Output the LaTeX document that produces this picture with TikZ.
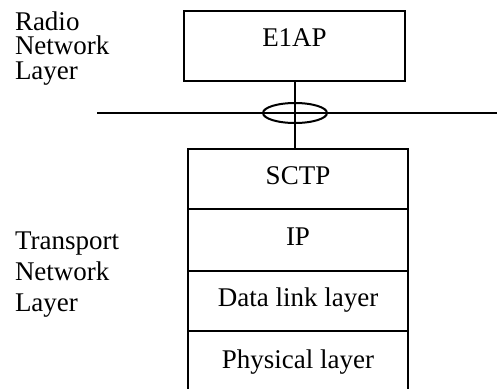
\documentclass[tikz,border=0pt]{standalone}
\usepackage{fontspec}
\setmainfont{Liberation Serif}
\usetikzlibrary{positioning}

\begin{document}
\begin{tikzpicture}[x=1pt, y=-1pt, line width=2pt,
    font=\fontsize{27}{31.3}\selectfont,
    layer/.style={draw, rectangle, minimum width=220pt, outer sep=0pt, inner sep=0pt, text height=17pt, text depth=7pt},
    side/.style={align=left, inner sep=0pt, anchor=north west}]
  \useasboundingbox (0,0) rectangle (497,388);

  \node[side, font=\fontsize{27}{24.2}\selectfont] (rnl) at (14,11) {Radio\\Network\\Layer};
  \node[side] (tnl) at (14,230.5) {Transport\\Network\\Layer};

  \node[layer, minimum width=221pt, minimum height=70pt, text depth=17pt] (e1ap) at (294.5,46) {E1AP};

  \node[layer, minimum height=60pt] (sctp) at (298,179) {SCTP};
  \node[layer, minimum height=62pt, below=0pt of sctp] (ip) {IP};
  \node[layer, minimum height=60pt, below=0pt of ip] (dll) {Data link layer};
  \node[layer, minimum height=64pt, below=0pt of dll] (phy) {Physical layer};

  \coordinate (wl) at (97,113);
  \coordinate (wr) at (497,113);
  \coordinate (link) at (295,113);
  \draw (wl) -- (wr);
  \draw (link) ellipse (32pt and 10pt);
  \draw (e1ap.south) -- (e1ap.south |- sctp.north);
\end{tikzpicture}
\end{document}
